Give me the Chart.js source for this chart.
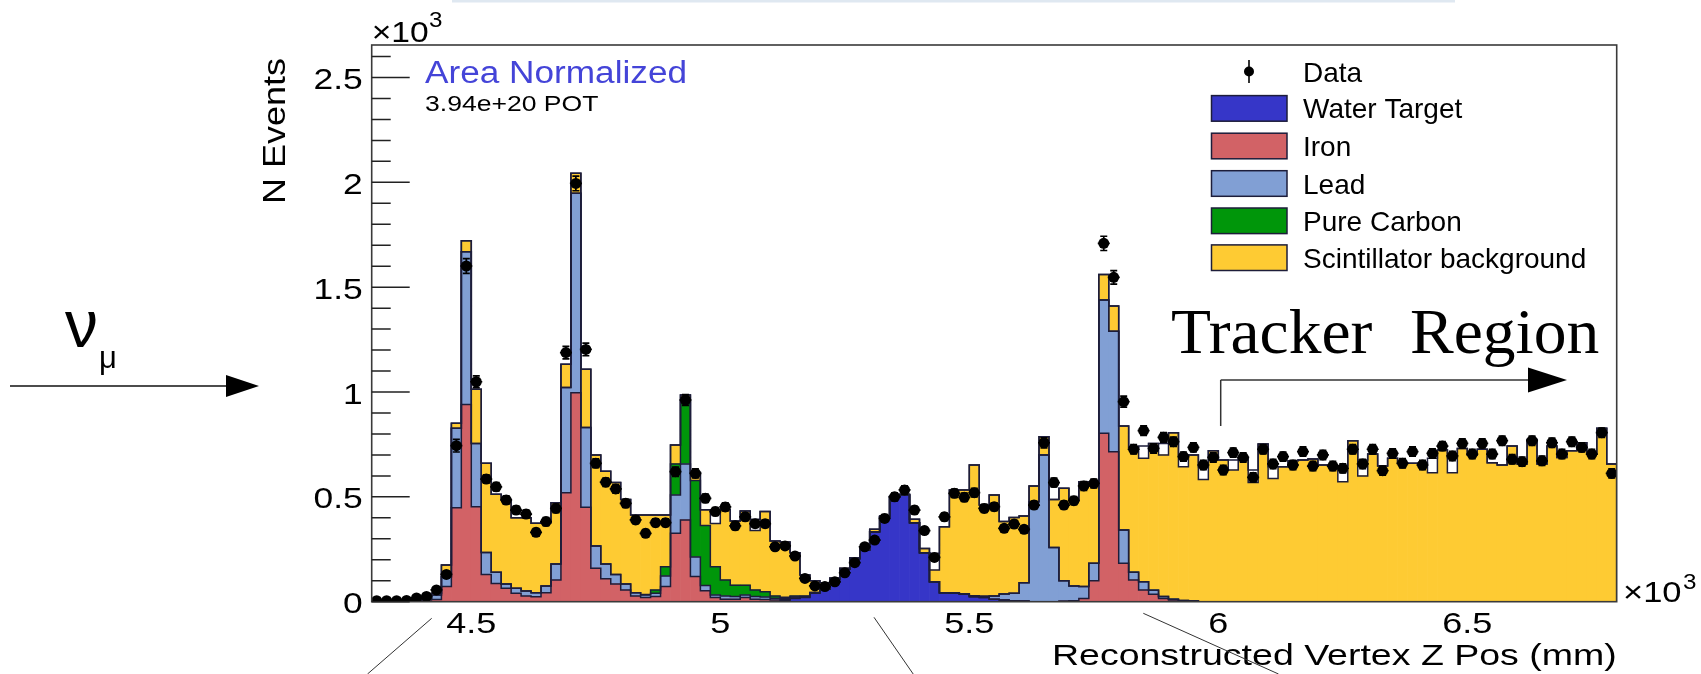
<!DOCTYPE html>
<html><head><meta charset="utf-8">
<script src="https://cdn.jsdelivr.net/npm/chart.js@4.4.1/dist/chart.umd.min.js"></script>
<style>html,body{margin:0;padding:0;background:#fff;}canvas{display:block;}</style>
</head><body>
<canvas id="c" width="1701" height="674"></canvas>
<script>
// ---- binning (x categories) ----
const binLow = 4300, binWidth = 20, nBins = 125;
const xTicks = [4500, 5000, 5500, 6000, 6500];
const xTickLabels = ['4.5', '5', '5.5', '6', '6.5'];
const yTicks = [0, 0.5, 1, 1.5, 2, 2.5];
const yTickLabels = ['0', '0.5', '1', '1.5', '2', '2.5'];
const seriesNames = ['Water Target', 'Iron', 'Lead', 'Pure Carbon', 'Scintillator background'];

// ---- values, in units of 10^3 events ----
const water = [
0,0,0,0,0,0,0,0,0,0,
0,0,0,0,0,0,0,0,0,0,
0,0,0,0,0,0,0,0,0,0,
0,0,0,0,0,0,0,0,0,0,
0,.005,.015,.020,.040,.059,.105,.155,.205,.246,
.334,.405,.500,.509,.377,.234,.095,.043,.040,.035,
.024,.020,.012,.008,.005,.003,0,0,0,0,
0,0,0,0,0,0,0,0,0,0,
0,0,0,0,0,0,0,0,0,0,
0,0,0,0,0,0,0,0,0,0,
0,0,0,0,0,0,0,0,0,0,
0,0,0,0,0,0,0,0,0,0,
0,0,0,0,0];
const iron = [
0,0,0,.001,.004,.008,.011,.072,.448,.941,
.453,.130,.087,.064,.040,.027,.024,.043,.103,.520,
.997,.450,.160,.110,.085,.056,.027,.020,.025,.072,
.326,.390,.120,.052,.020,.012,.012,.020,.012,.010,
.008,.005,.003,.002,.002,0,0,0,0,0,
0,0,0,0,0,0,0,0,0,0,
0,0,0,0,0,0,0,0,0,.003,
.005,.015,.100,.803,.715,.183,.103,.056,.035,.015,
.008,.004,.002,0,0,0,0,0,0,0,
0,0,0,0,0,0,0,0,0,0,
0,0,0,0,0,0,0,0,0,0,
0,0,0,0,0,0,0,0,0,0,
0,0,0,0,0];
const lead = [
0,0,0,0,.002,.005,.021,.047,.379,.728,
.302,.105,.053,.020,.024,.024,.019,.032,.077,.501,
.951,.381,.106,.070,.045,.028,.016,.012,.015,.050,
.183,.267,.093,.025,.012,.015,.013,.012,.013,.012,
.008,.005,.005,.003,.002,.002,.002,0,0,0,
0,0,0,0,0,0,0,0,.002,.003,
.004,.006,.015,.029,.035,.087,.477,.700,.259,.097,
.070,.057,.083,.636,.575,.159,.038,.039,.020,.010,
.004,.002,.001,0,0,0,0,0,0,0,
0,0,0,0,0,0,0,0,0,0,
0,0,0,0,0,0,0,0,0,0,
0,0,0,0,0,0,0,0,0,0,
0,0,0,0,0];
const carbon = [
0,0,0,0,0,0,0,0,0,0,
0,0,0,0,0,0,0,0,0,0,
0,0,0,0,0,0,0,.002,.016,.045,
.148,.305,.365,.286,.135,.076,.054,.047,.031,.026,
.011,.006,.004,.002,0,0,0,0,0,0,
0,0,0,0,0,0,0,0,0,0,
0,0,0,0,0,0,0,0,0,0,
0,0,0,0,0,0,0,0,0,0,
0,0,0,0,0,0,0,0,0,0,
0,0,0,0,0,0,0,0,0,0,
0,0,0,0,0,0,0,0,0,0,
0,0,0,0,0,0,0,0,0,0,
0,0,0,0,0];
const scint = [
.002,.002,.003,.003,.004,.004,.008,.056,.024,.053,
.258,.425,.372,.404,.336,.349,.331,.302,.292,.111,
.095,.277,.434,.442,.438,.404,.370,.379,.357,.246,
.090,.024,.038,.075,.206,.337,.306,.354,.284,.382,
.263,.264,.207,.100,.056,.029,.006,.005,.005,.012,
.011,.004,.003,.003,.016,.020,.056,.315,.491,.495,
.624,.435,.482,.345,.362,.319,.075,.087,.229,.441,
.413,.500,.389,.122,.120,.496,.595,.589,.700,.675,
.794,.638,.697,.583,.720,.676,.628,.688,.568,.752,
.588,.644,.672,.676,.680,.652,.647,.572,.768,.600,
.704,.647,.684,.660,.660,.660,.615,.723,.615,.731,
.700,.727,.663,.652,.742,.657,.774,.657,.742,.688,
.720,.758,.704,.827,.657];
// unlabelled top layer of the stack (drawn white)
const other = [
0,0,0,0,0,0,0,0,0,0,
0,0,0,0,0,0,0,0,0,0,
0,0,0,0,0,0,0,0,0,0,
0,0,0,0,.064,0,0,0,.053,0,
0,0,0,0,0,0,0,0,0,0,
0,0,0,0,0,0,.080,0,0,0,
0,0,0,0,0,0,0,0,0,0,
0,0,0,0,0,0,0,.058,0,.055,
0,.056,0,.061,0,0,.048,0,.060,0,
.056,0,0,0,0,0,0,.075,0,.076,
0,0,0,0,0,0,.069,0,.073,0,
0,0,0,0,0,0,0,0,0,0,
0,0,0,0,0];
const dataVals = [
.005,.005,.005,.006,.018,.025,.056,.130,.744,1.601,
1.049,.585,.548,.485,.437,.418,.331,.382,.445,1.188,
1.995,1.203,.660,.570,.538,.469,.390,.326,.377,.377,
.620,.962,.612,.493,.430,.452,.362,.405,.372,.372,
.262,.266,.218,.111,.075,.072,.095,.138,.186,.262,
.294,.397,.500,.533,.437,.339,.211,.405,.517,.498,
.520,.445,.453,.350,.370,.345,.461,.758,.568,.461,
.482,.552,.564,1.709,1.547,.954,.727,.816,.731,.784,
.763,.692,.736,.652,.688,.628,.711,.688,.593,.727,
.657,.692,.652,.716,.647,.700,.647,.636,.727,.657,
.727,.625,.707,.660,.716,.652,.707,.742,.695,.755,
.704,.755,.704,.768,.679,.668,.768,.672,.758,.704,
.763,.736,.704,.806,.612];
const dataErr = [
.003,.003,.003,.003,.006,.007,.010,.015,.030,.035,
.028,.020,.020,.020,.019,.019,.018,.019,.020,.030,
.035,.030,.021,.020,.020,.019,.018,.018,.018,.018,
.022,.026,.021,.020,.019,.019,.018,.018,.018,.018,
.014,.014,.013,.011,.010,.010,.011,.012,.013,.014,
.015,.018,.019,.019,.018,.016,.013,.018,.020,.020,
.020,.019,.019,.017,.018,.017,.019,.024,.021,.019,
.019,.021,.021,.034,.032,.026,.022,.023,.022,.023,
.022,.022,.022,.022,.022,.022,.022,.022,.022,.022,
.022,.022,.022,.022,.022,.022,.022,.022,.022,.022,
.022,.022,.022,.022,.022,.022,.022,.022,.022,.022,
.022,.022,.022,.022,.022,.022,.022,.022,.022,.022,
.022,.022,.022,.022,.022];

const colors = {water:'#3636c8', iron:'#d26266', lead:'#819fd4', carbon:'#00960a', scint:'#fecb33', other:'#ffffff'};
const mcSeries = [water, iron, lead, carbon, scint, other];
const mcColors = [colors.water, colors.iron, colors.lead, colors.carbon, colors.scint, colors.other];
const mcLabels = [...seriesNames, ''];

const centers = [];
for (let k = 0; k < nBins; k++) centers.push(binLow + binWidth * (k + 0.5));
const edge = k => binLow + binWidth * k;

const FONT = '"Liberation Sans", Arial, Helvetica, sans-serif';
const SERIF = '"Liberation Serif", "Times New Roman", serif';

function txt(ctx, s, x, y, size, o) {
  o = o || {};
  ctx.save();
  ctx.font = (o.weight ? o.weight + ' ' : '') + size + 'px ' + (o.family || FONT);
  ctx.translate(x, y);
  if (o.rot) ctx.rotate(o.rot);
  ctx.scale(o.sx || 1, 1);
  ctx.textAlign = o.align || 'left';
  ctx.textBaseline = o.base || 'alphabetic';
  ctx.fillStyle = o.color || '#000';
  ctx.fillText(s, 0, 0);
  ctx.restore();
}
function arrow(ctx, x1, y1, x2, y2, base, tip, half) {
  ctx.beginPath(); ctx.moveTo(x1, y1); ctx.lineTo(x2, y2); ctx.stroke();
  ctx.beginPath(); ctx.moveTo(base, y2 - half); ctx.lineTo(tip, y2); ctx.lineTo(base, y2 + half); ctx.closePath(); ctx.fill();
}

const histPlugin = {
  id: 'hist',
  beforeDatasetDraw(chart, args) {
    if (args.index !== 0) return;
    const ctx = chart.ctx, xs = chart.scales.x, ys = chart.scales.y, ca = chart.chartArea;
    ctx.save();
    ctx.beginPath(); ctx.rect(ca.left, ca.top - 2, ca.right - ca.left, ca.bottom - ca.top + 2); ctx.clip();
    // step outlines of each cumulative layer
    ctx.strokeStyle = '#1d1d3a'; ctx.lineWidth = 1.5; ctx.lineJoin = 'miter';
    const cum = new Array(nBins).fill(0);
    for (let L = 0; L < mcSeries.length; L++) {
      for (let k = 0; k < nBins; k++) cum[k] += mcSeries[L][k];
      ctx.beginPath();
      ctx.moveTo(xs.getPixelForValue(edge(0)), ys.getPixelForValue(0));
      for (let k = 0; k < nBins; k++) {
        const py = ys.getPixelForValue(cum[k]);
        ctx.lineTo(xs.getPixelForValue(edge(k)), py);
        ctx.lineTo(xs.getPixelForValue(edge(k + 1)), py);
      }
      ctx.lineTo(xs.getPixelForValue(edge(nBins)), ys.getPixelForValue(0));
      ctx.stroke();
    }
    // data error bars
    ctx.strokeStyle = '#000'; ctx.lineWidth = 1.7;
    for (let k = 0; k < nBins; k++) {
      const px = xs.getPixelForValue(centers[k]);
      const y1 = ys.getPixelForValue(dataVals[k] - dataErr[k]);
      const y2 = ys.getPixelForValue(dataVals[k] + dataErr[k]);
      const yc = ys.getPixelForValue(dataVals[k]);
      ctx.beginPath();
      ctx.moveTo(px, y1); ctx.lineTo(px, y2);
      ctx.moveTo(px - 3.5, y1); ctx.lineTo(px + 3.5, y1);
      ctx.moveTo(px - 3.5, y2); ctx.lineTo(px + 3.5, y2);
      ctx.moveTo(px - 6, yc); ctx.lineTo(px + 6, yc);
      ctx.stroke();
    }
    ctx.restore();
  },
  afterDraw(chart) {
    const ctx = chart.ctx, xs = chart.scales.x, ys = chart.scales.y, ca = chart.chartArea;
    ctx.save();
    // frame
    ctx.strokeStyle = '#3a3a3a'; ctx.lineWidth = 1.6;
    ctx.strokeRect(ca.left, ca.top, ca.right - ca.left, ca.bottom - ca.top);
    // y ticks inside the frame
    ctx.strokeStyle = '#222'; ctx.lineWidth = 1.5;
    ctx.beginPath();
    ys.ticks.forEach(t => { const py = ys.getPixelForValue(t.value); ctx.moveTo(ca.left, py); ctx.lineTo(ca.left + 38, py); });
    for (let i = 1; i <= 26; i++) {
      if (i % 5 === 0) continue;
      const py = ys.getPixelForValue(i / 10);
      ctx.moveTo(ca.left, py); ctx.lineTo(ca.left + 19, py);
    }
    ctx.stroke();
    // tick labels
    ys.ticks.forEach((t, i) => {
      const py = ys.getPixelForValue(t.value);
      txt(ctx, yTickLabels[i], ca.left - 9, py + 11.5, 30, {align: 'right', sx: 1.18});
    });
    xs.ticks.forEach((t, i) => {
      const px = xs.getPixelForValue(t.value);
      txt(ctx, xTickLabels[i], px, 632.5, 29.5, {align: 'center', sx: 1.22});
    });
    // exponent labels
    txt(ctx, '\u00d710', ca.left, 41.7, 30, {sx: 1.12});
    txt(ctx, '3', 429, 27, 22, {sx: 1.1});
    txt(ctx, '\u00d710', 1623, 601.7, 30, {sx: 1.15});
    txt(ctx, '3', 1683, 589, 22, {sx: 1.1});
    // axis titles
    txt(ctx, 'N Events', 285, 131, 30.5, {align: 'center', rot: -Math.PI / 2, sx: 1.18});
    txt(ctx, 'Reconstructed Vertex Z Pos (mm)', ca.right, 665, 30, {align: 'right', sx: 1.25});
    // annotations
    txt(ctx, 'Area Normalized', 425, 83, 31, {sx: 1.135, color: '#4444d8'});
    txt(ctx, '3.94e+20 POT', 425, 111, 22.5, {sx: 1.18});
    // legend
    const rowY = [71.5, 108.4, 146, 183.5, 220.8, 257.7];
    const ds = chart.data.datasets;
    ctx.fillStyle = '#000'; ctx.strokeStyle = '#000'; ctx.lineWidth = 1.6;
    ctx.beginPath(); ctx.arc(1249, rowY[0], 5, 0, Math.PI * 2); ctx.fill();
    ctx.beginPath(); ctx.moveTo(1249, rowY[0] - 11.5); ctx.lineTo(1249, rowY[0] + 11.5); ctx.stroke();
    txt(ctx, ds[0].label, 1303, rowY[0] + 10, 28);
    for (let i = 1; i <= 5; i++) {
      const y0 = rowY[i];
      ctx.fillStyle = ds[i].backgroundColor;
      ctx.fillRect(1211.5, y0 - 12.8, 75.5, 25.6);
      ctx.strokeStyle = '#1d1d3a'; ctx.lineWidth = 1.5;
      ctx.strokeRect(1211.5, y0 - 12.8, 75.5, 25.6);
      txt(ctx, ds[i].label, 1303, y0 + 10, 28);
    }
    // tracker region
    txt(ctx, 'Tracker', 1171, 353.3, 63, {family: SERIF, sx: 1.04});
    txt(ctx, 'Region', 1410, 353.3, 63, {family: SERIF, sx: 1.04});
    ctx.strokeStyle = '#333'; ctx.fillStyle = '#000'; ctx.lineWidth = 1.5;
    ctx.beginPath(); ctx.moveTo(1220.7, 426); ctx.lineTo(1220.7, 380); ctx.stroke();
    arrow(ctx, 1220.7, 380, 1530, 380, 1528, 1567, 12.5);
    // neutrino beam arrow
    ctx.strokeStyle = '#111'; ctx.lineWidth = 1.3;
    arrow(ctx, 10, 386, 228, 386, 226, 259, 11);
    txt(ctx, '\u03bd', 65, 347, 66);
    txt(ctx, '\u03bc', 99, 368, 31);
    // detector guide lines
    ctx.strokeStyle = '#333'; ctx.lineWidth = 1;
    ctx.beginPath();
    ctx.moveTo(431.7, 618.3); ctx.lineTo(367.5, 674);
    ctx.moveTo(874, 617.3); ctx.lineTo(913.2, 674);
    ctx.moveTo(1143.3, 613.3); ctx.lineTo(1278.5, 674);
    ctx.stroke();
    // top band
    ctx.fillStyle = '#dfe8f1';
    ctx.fillRect(452, 0, 1003, 2.5);
    ctx.restore();
  }
};

const datasets = [{
  type: 'scatter', label: 'Data', order: 0, stack: 'data',
  data: dataVals.map((v, k) => ({x: centers[k], y: v})),
  backgroundColor: '#000', borderColor: '#000', borderWidth: 0,
  pointRadius: 5.5, pointStyle: 'circle'
}];
mcSeries.forEach((arr, i) => datasets.push({
  type: 'bar', label: mcLabels[i], order: 1, stack: 'mc',
  data: arr.map((v, k) => ({x: centers[k], y: v})),
  backgroundColor: mcColors[i], borderWidth: 0,
  barPercentage: 1, categoryPercentage: 1
}));

new Chart(document.getElementById('c'), {
  type: 'bar',
  data: {datasets},
  options: {
    responsive: false, animation: false, devicePixelRatio: 1,
    layout: {padding: {left: 0, top: 45, right: 84.3, bottom: 0}},
    plugins: {legend: {display: false}, tooltip: {enabled: false}},
    scales: {
      x: {type: 'linear', min: 4300, max: 6800, stacked: true, offset: false,
          grid: {display: false}, border: {display: false}, ticks: {display: false},
          afterBuildTicks: s => { s.ticks = xTicks.map(v => ({value: v})); },
          afterFit: s => { s.height = 72.3; }},
      y: {type: 'linear', min: 0, max: 2.655, stacked: true,
          grid: {display: false}, border: {display: false}, ticks: {display: false},
          afterBuildTicks: s => { s.ticks = yTicks.map(v => ({value: v})); },
          afterFit: s => { s.width = 371.7; }}
    }
  },
  plugins: [histPlugin]
});
</script>
</body></html>
